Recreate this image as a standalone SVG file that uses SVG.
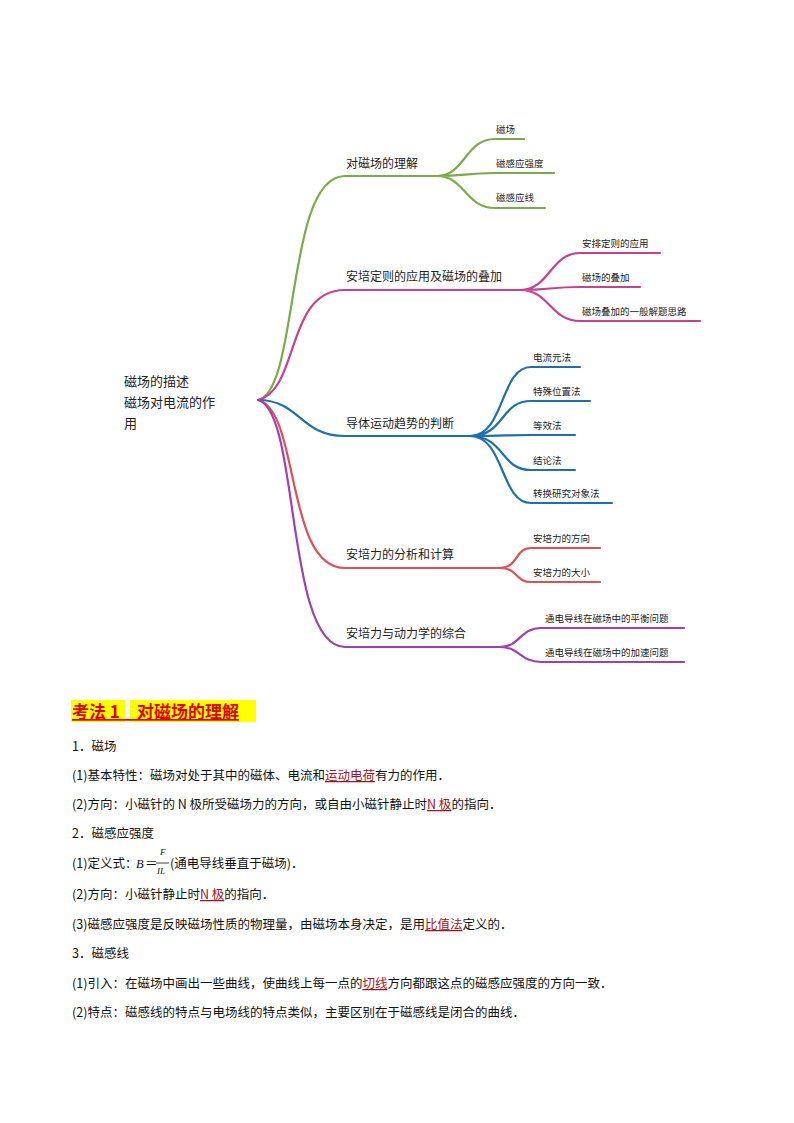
<svg xmlns="http://www.w3.org/2000/svg" width="794" height="1123" viewBox="0 0 794 1123">
<style>
.l{fill:none;stroke-width:2.2;stroke-linecap:round}
.g{stroke:#7aab48}.m{stroke:#c8408f}.b{stroke:#1f6fae}.r{stroke:#e0505a}.p{stroke:#a040b0}
text{font-family:"Noto Sans CJK SC","Noto Sans",sans-serif;fill:#222}
.t1{font-size:12px}.t2{font-size:9.5px}.t0{font-size:13px}
.bd{font-family:"Noto Sans CJK SC",sans-serif;font-size:12.5px;fill:#111}
.u{fill:#a0141e;text-decoration:underline}
.f{font-family:"Liberation Serif",serif;font-style:italic;fill:#111}
</style>
<rect width="794" height="1123" fill="#fff"/>
<g id="connectors">
<path class="l g" d="M258,400 C300,390 285,176 345,176 L437,176"/>
<path class="l g" d="M437,176 C465,176 465,139 495,139 L524,139 M437,176 C465,176 465,173 495,173 L554,173 M437,176 C465,176 465,208 495,208 L545,208"/>
<path class="l m" d="M258,400 C300,390 285,290 345,290 L520,290"/>
<path class="l m" d="M520,290 C550,290 550,253 580,253 L660,253 M520,290 C550,290 550,287 580,287 L640,287 M520,290 C550,290 550,321 580,321 L700,321"/>
<path class="l b" d="M258,400 C300,400 300,436 345,436 L470,436"/>
<path class="l b" d="M470,436 C505,436 500,367 531,367 L580,367 M470,436 C505,436 500,401 531,401 L590,401 M470,436 C505,436 505,435 531,435 L575,435 M470,436 C505,436 500,470 531,470 L575,470 M470,436 C505,436 500,503 531,503 L612,503"/>
<path class="l r" d="M258,400 C300,410 285,568 345,568 L500,568"/>
<path class="l r" d="M500,568 C518,568 515,548 531,548 L600,548 M500,568 C518,568 515,582 531,582 L600,582"/>
<path class="l p" d="M258,400 C300,410 285,647 345,647 L500,647"/>
<path class="l p" d="M500,647 C520,647 520,628 541,628 L684,628 M500,647 C520,647 520,662 541,662 L684,662"/>
</g>
<g id="root"><text class="t0" x="124" y="386">磁场的描述</text><text class="t0" x="124" y="407">磁场对电流的作</text><text class="t0" x="124" y="428">用</text></g>
<g id="n1"><text class="t1" x="346" y="168">对磁场的理解</text></g>
<g id="n1a"><text class="t2" x="496" y="133">磁场</text></g>
<g id="n1b"><text class="t2" x="496" y="167">磁感应强度</text></g>
<g id="n1c"><text class="t2" x="496" y="201">磁感应线</text></g>
<g id="n2"><text class="t1" x="346" y="281">安培定则的应用及磁场的叠加</text></g>
<g id="n2a"><text class="t2" x="582" y="247">安排定则的应用</text></g>
<g id="n2b"><text class="t2" x="582" y="281">磁场的叠加</text></g>
<g id="n2c"><text class="t2" x="582" y="315">磁场叠加的一般解题思路</text></g>
<g id="n3"><text class="t1" x="346" y="428">导体运动趋势的判断</text></g>
<g id="n3a"><text class="t2" x="533" y="361">电流元法</text></g>
<g id="n3b"><text class="t2" x="533" y="395">特殊位置法</text></g>
<g id="n3c"><text class="t2" x="533" y="429">等效法</text></g>
<g id="n3d"><text class="t2" x="533" y="464">结论法</text></g>
<g id="n3e"><text class="t2" x="533" y="497">转换研究对象法</text></g>
<g id="n4"><text class="t1" x="346" y="559">安培力的分析和计算</text></g>
<g id="n4a"><text class="t2" x="533" y="542">安培力的方向</text></g>
<g id="n4b"><text class="t2" x="533" y="576">安培力的大小</text></g>
<g id="n5"><text class="t1" x="346" y="638">安培力与动力学的综合</text></g>
<g id="n5a"><text class="t2" x="545" y="622">通电导线在磁场中的平衡问题</text></g>
<g id="n5b"><text class="t2" x="545" y="656">通电导线在磁场中的加速问题</text></g>
<g id="body">
<rect x="71" y="700" width="54" height="22" fill="#ffff00"/>
<rect x="130" y="700" width="126" height="22" fill="#ffff00"/>
<text x="72" y="718" style="font-family:'Noto Sans CJK SC',sans-serif;font-size:17px;font-weight:bold;fill:#e00000;text-decoration:underline">考法 1　对磁场的理解</text>
<text class="bd" x="72" y="751">1．磁场</text>
<text class="bd" x="72" y="780">(1)基本特性：磁场对处于其中的磁体、电流和<tspan class="u">运动电荷</tspan>有力的作用．</text>
<text class="bd" x="72" y="809">(2)方向：小磁针的 N 极所受磁场力的方向，或自由小磁针静止时<tspan class="u">N 极</tspan>的指向．</text>
<text class="bd" x="72" y="838">2．磁感应强度</text>
<text class="bd" x="72" y="868">(1)定义式：</text>
<text class="f" x="136" y="868" font-size="12.5">B</text>
<text class="bd" x="145" y="868">＝</text>
<text class="f" x="160" y="855" font-size="9">F</text>
<line x1="156" y1="863" x2="169" y2="863" stroke="#111" stroke-width="0.8"/>
<text class="f" x="157" y="874" font-size="9">IL</text>
<text class="bd" x="170" y="868">(通电导线垂直于磁场)．</text>
<text class="bd" x="72" y="899">(2)方向：小磁针静止时<tspan class="u">N 极</tspan>的指向．</text>
<text class="bd" x="72" y="929">(3)磁感应强度是反映磁场性质的物理量，由磁场本身决定，是用<tspan class="u">比值法</tspan>定义的．</text>
<text class="bd" x="72" y="958">3．磁感线</text>
<text class="bd" x="72" y="988">(1)引入：在磁场中画出一些曲线，使曲线上每一点的<tspan class="u">切线</tspan>方向都跟这点的磁感应强度的方向一致．</text>
<text class="bd" x="72" y="1017">(2)特点：磁感线的特点与电场线的特点类似，主要区别在于磁感线是闭合的曲线．</text>
</g>
</svg>
